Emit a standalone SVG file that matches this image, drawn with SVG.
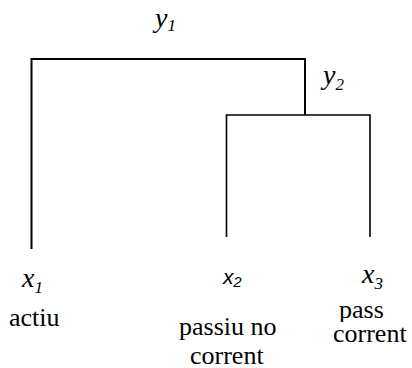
<svg xmlns="http://www.w3.org/2000/svg" width="412" height="368" viewBox="0 0 412 368">
<style>
.ln{stroke:#000;fill:none;stroke-linecap:butt}
.it{font-style:italic;fill:#000}
.rm{font-size:26px;fill:#000}
.sn{font-style:italic;font-size:21px;fill:#000}
</style>
<defs>
<clipPath id="clipR"><rect x="300" y="250" width="87" height="72"/></clipPath>
</defs>
<rect width="412" height="368" fill="#fff"/>
<g id="connectors">
<polyline class="ln" stroke-width="2" points="31.5,249 31.5,59 305,59 305,115"/>
<polyline class="ln" stroke-width="1.6" points="226.5,237 226.5,115 370,115 370,237"/>
</g>
<g id="y1"><text class="it" font-family="Liberation Serif, serif" x="155" y="27" font-size="28">y<tspan font-size="17" dy="4">1</tspan></text></g>
<g id="y2"><text class="it" font-family="Liberation Serif, serif" x="323" y="84" font-size="28">y<tspan font-size="17" dy="6">2</tspan></text></g>
<g id="x1">
<text class="it" font-family="Liberation Serif, serif" x="22" y="287" font-size="28">x<tspan font-size="17" dy="6">1</tspan></text>
<text class="rm" font-family="Liberation Serif, serif" x="9" y="326">actiu</text>
</g>
<g id="x2">
<text class="sn" font-family="Liberation Sans, sans-serif" x="223" y="284">x₂</text>
<text class="rm" font-family="Liberation Serif, serif" x="179" y="335">passiu no</text>
<text class="rm" font-family="Liberation Serif, serif" x="190" y="364">corrent</text>
</g>
<g id="x3">
<g clip-path="url(#clipR)">
<text class="it" font-family="Liberation Serif, serif" x="362" y="283" font-size="28">x<tspan font-size="17" dy="6">3</tspan></text>
<text class="rm" font-family="Liberation Serif, serif" x="339" y="318">pass</text>
</g>
<text class="rm" font-family="Liberation Serif, serif" x="333" y="342">corrent</text>
</g>
</svg>
